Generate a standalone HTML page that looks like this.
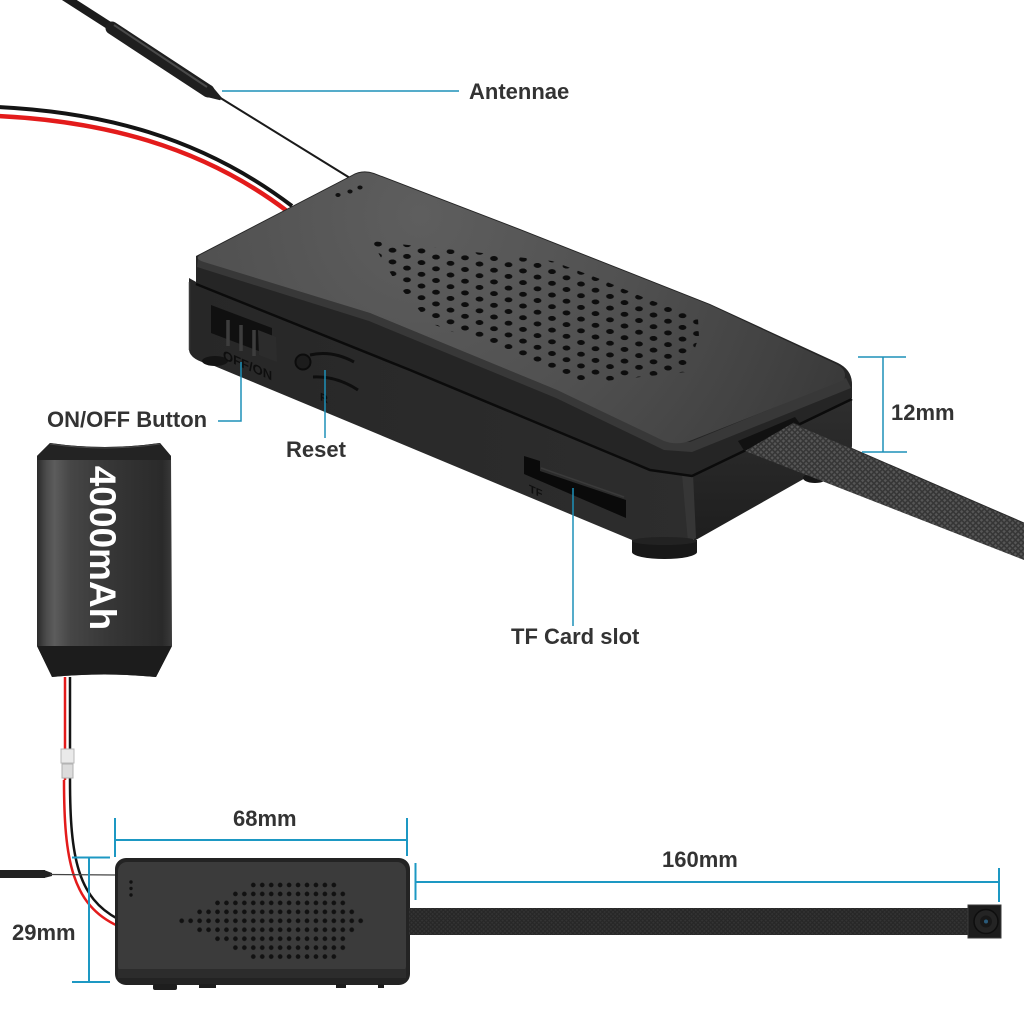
<!DOCTYPE html>
<html><head><meta charset="utf-8">
<style>
html,body{margin:0;padding:0;background:#fff;}
svg{display:block;}
.lbl{font-family:"Liberation Sans",Arial,sans-serif;font-weight:bold;font-size:22px;fill:#333;}
.emb{font-family:"Liberation Sans",Arial,sans-serif;font-weight:bold;fill:#0e0e0e;}
.dim{stroke:#1d98c3;stroke-width:2;fill:none;}
.ldr{stroke:#1d90b8;stroke-width:1.5;fill:none;}
</style></head><body>
<svg width="1024" height="1024" viewBox="0 0 1024 1024" xmlns="http://www.w3.org/2000/svg">
<defs>
<radialGradient id="topg" gradientUnits="userSpaceOnUse" cx="420" cy="215" r="470">
<stop offset="0" stop-color="#5e5e5e"/><stop offset="0.45" stop-color="#515151"/><stop offset="0.8" stop-color="#424242"/><stop offset="1" stop-color="#383838"/>
</radialGradient>
<linearGradient id="frontg" gradientUnits="userSpaceOnUse" x1="190" y1="0" x2="690" y2="0">
<stop offset="0" stop-color="#272727"/><stop offset="1" stop-color="#2d2d2d"/>
</linearGradient>
<linearGradient id="rightg" gradientUnits="userSpaceOnUse" x1="0" y1="400" x2="0" y2="540">
<stop offset="0" stop-color="#2e2e2e"/><stop offset="1" stop-color="#1e1e1e"/>
</linearGradient>
<linearGradient id="batg" gradientUnits="userSpaceOnUse" x1="37" y1="0" x2="172" y2="0">
<stop offset="0" stop-color="#2a2a2a"/><stop offset="0.07" stop-color="#4c4c4c"/><stop offset="0.13" stop-color="#5c5c5c"/><stop offset="0.25" stop-color="#464646"/><stop offset="0.55" stop-color="#363636"/><stop offset="0.93" stop-color="#2a2a2a"/><stop offset="1" stop-color="#3a3a3a"/>
</linearGradient>
<pattern id="holes" patternUnits="userSpaceOnUse" width="1" height="1" patternTransform="matrix(14.5 6.2 -14.5 5.5 378 238.15)">
<ellipse cx="0.5" cy="0.5" rx="0.3" ry="0.19" transform="rotate(45 0.5 0.5)" fill="#0d0d0d"/>
</pattern>
<pattern id="knurl" patternUnits="userSpaceOnUse" width="4" height="4" patternTransform="rotate(45)">
<rect width="4" height="4" fill="#363636"/><rect x="0.6" y="0.6" width="2.4" height="2.4" fill="#575757"/>
</pattern>
<pattern id="knurl2" patternUnits="userSpaceOnUse" width="3" height="3" patternTransform="rotate(45)">
<rect width="3" height="3" fill="#272727"/><rect x="0.5" y="0.5" width="1.8" height="1.8" fill="#343434"/>
</pattern>
<pattern id="holes2" patternUnits="userSpaceOnUse" x="177.225" y="880.525" width="8.95" height="8.95">
<circle cx="4.475" cy="4.475" r="2.35" fill="#111"/>
</pattern>
</defs>

<!-- top wires -->
<path d="M -2 116 C 100 121, 200 145, 287 211" stroke="#e31b1b" stroke-width="4.5" fill="none"/>
<path d="M -2 107 C 100 112, 200 136, 292 206" stroke="#141414" stroke-width="4" fill="none"/>

<!-- antenna -->
<line x1="214" y1="94" x2="350" y2="178" stroke="#1a1a1a" stroke-width="2"/>
<line x1="60" y1="-6" x2="113" y2="28" stroke="#1c1c1c" stroke-width="8"/>
<line x1="112" y1="28" x2="208" y2="91" stroke="#1f1f1f" stroke-width="13" stroke-linecap="round"/>
<polygon points="204.4,96.4 211.6,85.6 221.8,97.7 220.2,100.3" fill="#1f1f1f"/>
<line x1="114" y1="25" x2="207" y2="87" stroke="#4a4a4a" stroke-width="2"/>

<!-- main device body -->
<path d="M189 278 L198 283 L410 370 L650 470 L690 476 L694 534 Q694 542 686 542 L637 542 L212 365 Q190 360 189 350 Z" fill="url(#frontg)"/>
<path d="M690 476 L852 399 L852 446 Q852 452 846 455 L694 541 Z" fill="url(#rightg)"/>
<path d="M682 474 L693 474 L696 538 L688 542 Z" fill="#363636"/>
<line x1="189.5" y1="282" x2="189.5" y2="350" stroke="#3a3a3a" stroke-width="1.5"/>
<ellipse cx="215" cy="361" rx="13" ry="5" fill="#141414"/>
<path d="M632 540 L697 540 L697 552 A32.5 7 0 0 1 632 552 Z" fill="#181818"/>
<ellipse cx="664.5" cy="541" rx="32.5" ry="4" fill="#222"/>
<ellipse cx="815" cy="478" rx="12" ry="5" fill="#161616"/>

<!-- lid -->
<path d="M196 256 L352 175 Q362 169 374 173 L520 229 L710 304 L838 363 Q852 370 852 384 L852 398 L692 476 L650 470 L410 370 L196 284 Z" fill="#252525"/>
<path d="M198 259 L370 313 L557 390 L666 441 L690 442 L846 378 L851 388 L692 452 L664 450 L556 398 L369 321 L197 267 Z" fill="#383838"/>
<path d="M200 255 L352 176 Q362 170 374 174 L520 230 L710 305 L836 364 Q848 370 844 380 L692 440 Q678 446 664 441 L557 390 L370 313 L204 262 Q194 259 200 255 Z" fill="url(#topg)"/>
<polygon points="371,241 465,251 552,261 600,279 645,298 698,318 699,337 686,372 605,381 572,381 510,354 430,323 397,284" fill="url(#holes)"/>
<ellipse cx="338" cy="195" rx="2.6" ry="2" fill="#111"/>
<ellipse cx="350" cy="191.5" rx="2.6" ry="2" fill="#111"/>
<ellipse cx="360" cy="187.5" rx="2.6" ry="2" fill="#111"/>
<polyline points="196,284 410,370 650,470 692,476 852,399" stroke="#0b0b0b" stroke-width="2.5" fill="none"/>

<!-- switch -->
<polygon points="211,305 272,328 272,356 211,333" fill="#101010"/>
<line x1="228" y1="320" x2="228" y2="346" stroke="#3d3d3d" stroke-width="3.5"/>
<line x1="241" y1="325" x2="241" y2="351" stroke="#3d3d3d" stroke-width="3.5"/>
<line x1="254" y1="330" x2="254" y2="356" stroke="#3d3d3d" stroke-width="3.5"/>
<polygon points="258,330 276,337 277,362 259,355" fill="#2c2c2c"/>
<text class="emb" font-size="13" transform="matrix(1 0.44 0 1 223 359)">OFF/ON</text>
<!-- reset -->
<circle cx="303" cy="362" r="7.5" fill="#1c1c1c" stroke="#0c0c0c" stroke-width="2"/>
<path d="M310 355 Q332 350 354 362" stroke="#0e0e0e" stroke-width="3" fill="none"/>
<path d="M313 377 Q337 376 358 390" stroke="#0e0e0e" stroke-width="3" fill="none"/>
<text class="emb" font-size="11" transform="matrix(1 0.44 0 1 320 400)">R</text>
<!-- TF slot -->
<polygon points="524,456 540,461 540,471 626,500 626,518 524,474" fill="#0a0a0a"/>
<line x1="541" y1="468" x2="624" y2="497" stroke="#3a3a3a" stroke-width="1.5"/>
<text class="emb" font-size="11" transform="matrix(1 0.44 0 1 529 492)">TF</text>

<!-- cable main -->
<polygon points="738,441 795,417 801,425 745,452" fill="#111"/>
<polygon points="745,451 793,423 1024,523 1024,560" fill="url(#knurl)"/>
<line x1="793" y1="423" x2="1024" y2="523" stroke="#2a2a2a" stroke-width="1"/>

<!-- labels main -->
<line class="ldr" x1="222" y1="91" x2="459" y2="91" stroke-width="1.2"/>
<text class="lbl" x="469" y="99">Antennae</text>
<polyline class="ldr" points="218,421 241,421 241,362"/>
<text class="lbl" x="47" y="427">ON/OFF Button</text>
<line class="ldr" x1="325" y1="370" x2="325" y2="438"/>
<text class="lbl" x="286" y="457">Reset</text>
<line class="ldr" x1="883" y1="357" x2="883" y2="452"/>
<line class="ldr" x1="858" y1="357" x2="906" y2="357"/>
<line class="ldr" x1="862" y1="452" x2="907" y2="452"/>
<text class="lbl" x="891" y="420">12mm</text>
<line class="ldr" x1="573" y1="488" x2="573" y2="626"/>
<text class="lbl" x="511" y="644">TF Card slot</text>

<!-- battery -->
<path d="M37 456 L50 443 Q105 451 160 443 L171 456 L172 646 L156 677 Q105 672 52 677 L37 646 Z" fill="url(#batg)"/>
<path d="M37 456 L50 443 Q105 451 160 443 L171 456 L171 460 L37 460 Z" fill="#232323"/>
<path d="M50 444 Q105 452 160 444" stroke="#4a4a4a" stroke-width="1" fill="none"/>
<path d="M37 646 L172 646 L156 677 Q105 672 52 677 Z" fill="#1c1c1c"/>
<text x="0" y="0" transform="translate(90,548) rotate(90)" text-anchor="middle" font-family="Liberation Sans, Arial, sans-serif" font-weight="bold" font-size="37" fill="#fff">4000mAh</text>

<!-- battery wires -->
<line x1="65" y1="677" x2="65" y2="780" stroke="#e31b1b" stroke-width="2.5"/>
<line x1="70" y1="677" x2="70" y2="780" stroke="#141414" stroke-width="2.5"/>
<rect x="61" y="749" width="13" height="14" fill="#eaeaea" stroke="#b8b8b8" stroke-width="1"/>
<rect x="62" y="764" width="11" height="14" fill="#dcdcdc" stroke="#b0b0b0" stroke-width="1"/>
<path d="M64 780 C 64 860, 72 905, 118 926" stroke="#e31b1b" stroke-width="2.5" fill="none"/>
<path d="M70 780 C 70 858, 78 898, 118 919" stroke="#141414" stroke-width="2.5" fill="none"/>

<!-- bottom antenna -->
<line x1="0" y1="874" x2="45" y2="874" stroke="#222" stroke-width="8"/>
<polygon points="44,870 52,873 52,876 44,878" fill="#222"/>
<line x1="50" y1="874.5" x2="116" y2="875" stroke="#444" stroke-width="1.3"/>

<!-- bottom device -->
<rect x="115" y="858" width="295" height="127" rx="11" fill="#232323"/>
<rect x="118" y="862" width="288" height="113" rx="9" fill="#3b3b3b"/>
<rect x="118" y="969" width="288" height="9" fill="#2c2c2c"/>
<rect x="248.825" y="880.525" width="89.5" height="8.95" fill="url(#holes2)"/>
<rect x="230.925" y="889.475" width="116.35" height="8.95" fill="url(#holes2)"/>
<rect x="213.025" y="898.425" width="134.25" height="8.95" fill="url(#holes2)"/>
<rect x="195.125" y="907.375" width="161.1" height="8.95" fill="url(#holes2)"/>
<rect x="177.225" y="916.325" width="187.95" height="8.95" fill="url(#holes2)"/>
<rect x="195.125" y="925.275" width="161.1" height="8.95" fill="url(#holes2)"/>
<rect x="213.025" y="934.225" width="134.25" height="8.95" fill="url(#holes2)"/>
<rect x="230.925" y="943.175" width="116.35" height="8.95" fill="url(#holes2)"/>
<rect x="248.825" y="952.125" width="89.5" height="8.95" fill="url(#holes2)"/>
<circle cx="131" cy="882" r="1.7" fill="#111"/>
<circle cx="131" cy="888.5" r="1.7" fill="#111"/>
<circle cx="131" cy="895" r="1.7" fill="#111"/>
<rect x="153" y="984" width="24" height="6" rx="2" fill="#1e1e1e"/>
<rect x="199" y="984" width="17" height="4" fill="#1e1e1e"/>
<rect x="336" y="984" width="10" height="4" fill="#1e1e1e"/>
<rect x="378" y="984" width="6" height="4" fill="#1e1e1e"/>

<!-- bottom cable & camera -->
<rect x="409" y="908" width="561" height="27" fill="url(#knurl2)"/>
<rect x="968" y="905" width="33" height="33" fill="#1c1c1c" stroke="#3a3a3a" stroke-width="1"/>
<circle cx="986" cy="921.5" r="12" fill="#242424" stroke="#0e0e0e" stroke-width="1.5"/>
<circle cx="986" cy="921.5" r="6" fill="#181818"/>
<circle cx="986" cy="921.5" r="2" fill="#2a5a7a"/>

<!-- bottom dimensions -->
<line class="dim" x1="115" y1="818" x2="115" y2="857"/>
<line class="dim" x1="407" y1="818" x2="407" y2="856"/>
<line class="dim" x1="115" y1="840" x2="407" y2="840"/>
<text class="lbl" x="233" y="826">68mm</text>
<line class="dim" x1="72" y1="857.5" x2="110" y2="857.5"/>
<line class="dim" x1="72" y1="982" x2="110" y2="982"/>
<line class="dim" x1="89" y1="857.5" x2="89" y2="982"/>
<text class="lbl" x="12" y="940">29mm</text>
<line class="dim" x1="415.5" y1="863" x2="415.5" y2="900"/>
<line class="dim" x1="999" y1="868" x2="999" y2="902"/>
<line class="dim" x1="415.5" y1="882" x2="999" y2="882"/>
<text class="lbl" x="662" y="867">160mm</text>
</svg>
</body></html>
